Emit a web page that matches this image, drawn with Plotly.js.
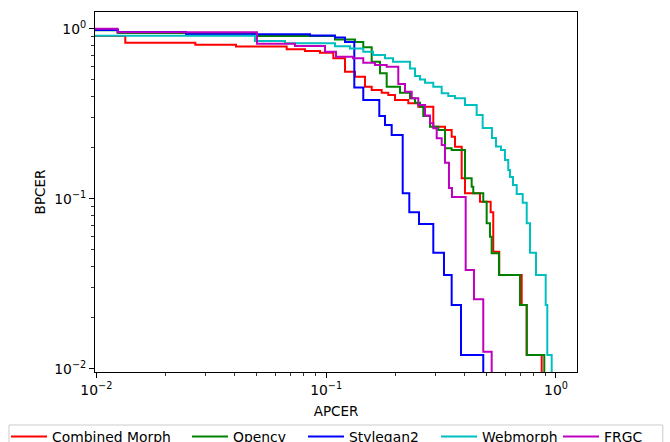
<!DOCTYPE html>
<html>
<head>
<meta charset="utf-8">
<script src="https://cdn.plot.ly/plotly-3.0.1.min.js"></script>
<style>html,body{margin:0;padding:0;background:#fff;}#chart{width:670px;height:442px;}</style>
</head>
<body>
<div id="chart"></div>
<script>
// Series names
const seriesNames = ["Combined Morph", "Opencv", "Stylegan2", "Webmorph", "FRGC"];

// Combined Morph (APCER, BPCER) step vertices
const combinedX = [0.0095, 0.01337, 0.02696, 0.04053, 0.06734, 0.0809, 0.09402, 0.10745, 0.1208, 0.13351, 0.14754, 0.15781, 0.17444, 0.18636, 0.1993, 0.22772, 0.25172, 0.29253, 0.32885, 0.35166, 0.36355, 0.38878, 0.40179, 0.46691, 0.51973, 0.53343, 0.56646, 0.70924, 0.74581, 0.86665];
const combinedY = [0.906, 0.8273, 0.8052, 0.7858, 0.7566, 0.7394, 0.7226, 0.6698, 0.5584, 0.5219, 0.4559, 0.4359, 0.4202, 0.4074, 0.3807, 0.3641, 0.3477, 0.2652, 0.2536, 0.2315, 0.2022, 0.1318, 0.1075, 0.09602, 0.08318, 0.04879, 0.03557, 0.0237, 0.01204, 0.005];

// Opencv
const opencvX = [0.0095, 0.01239, 0.05001, 0.10929, 0.13351, 0.14505, 0.15781, 0.1715, 0.1834, 0.20955, 0.23163, 0.24353, 0.25604, 0.26464, 0.28301, 0.30756, 0.32885, 0.35166, 0.40179, 0.42967, 0.43661, 0.4826, 0.49933, 0.51611, 0.52496, 0.56476, 0.69728, 0.74581, 0.88934];
const opencvY = [0.9786, 0.9434, 0.9059, 0.8639, 0.8351, 0.7773, 0.6396, 0.5465, 0.4559, 0.4202, 0.3896, 0.367, 0.3477, 0.3065, 0.2652, 0.2536, 0.1979, 0.1934, 0.1318, 0.1176, 0.1075, 0.09602, 0.07165, 0.05976, 0.04774, 0.03557, 0.0237, 0.01204, 0.005];

// Stylegan2
const styleganX = [0.0095, 0.01239, 0.02457, 0.08505, 0.10929, 0.1208, 0.13258, 0.14505, 0.1703, 0.1803, 0.19282, 0.2153, 0.23001, 0.25349, 0.29253, 0.32557, 0.35166, 0.38607, 0.4826];
const styleganY = [0.9825, 0.9563, 0.927, 0.912, 0.8877, 0.8351, 0.451, 0.3807, 0.3065, 0.2714, 0.2369, 0.1075, 0.08318, 0.07097, 0.04813, 0.03557, 0.0237, 0.01204, 0.005];

// Webmorph
const webmorphX = [0.0095, 0.04902, 0.0662, 0.10929, 0.12699, 0.14505, 0.15988, 0.1803, 0.19534, 0.23163, 0.24353, 0.25604, 0.26919, 0.29253, 0.31816, 0.33988, 0.36355, 0.40179, 0.45171, 0.47971, 0.52655, 0.54806, 0.57622, 0.5998, 0.61996, 0.63061, 0.65004, 0.6746, 0.71638, 0.74581, 0.77086, 0.81859, 0.90188, 0.91656, 0.95784];
const webmorphY = [0.9084, 0.8465, 0.8207, 0.789, 0.7648, 0.7324, 0.7004, 0.6698, 0.6396, 0.5831, 0.5268, 0.5027, 0.4813, 0.4559, 0.4169, 0.4019, 0.3896, 0.3558, 0.3107, 0.2606, 0.2275, 0.2028, 0.1934, 0.1689, 0.1475, 0.1341, 0.1204, 0.1065, 0.09473, 0.07165, 0.04813, 0.03557, 0.0237, 0.01204, 0.005];

// FRGC
const frgcX = [0.0095, 0.01239, 0.05001, 0.07318, 0.09886, 0.11039, 0.13086, 0.14505, 0.16312, 0.1834, 0.206, 0.22031, 0.23561, 0.25172, 0.26919, 0.28301, 0.29253, 0.30267, 0.31816, 0.32885, 0.34228, 0.35272, 0.40461, 0.43968, 0.4826, 0.52496];
const frgcY = [1.0, 0.9524, 0.8162, 0.7911, 0.7324, 0.6845, 0.6698, 0.631, 0.6114, 0.5975, 0.4729, 0.4259, 0.3896, 0.3558, 0.3086, 0.2777, 0.2595, 0.2266, 0.207, 0.1628, 0.1156, 0.1023, 0.03807, 0.02561, 0.01259, 0.005];

// Axis ticks
const majorTickVals = [0.01, 0.1, 1];
const majorTickText = ["10<sup>\u22122</sup>", "10<sup>\u22121</sup>", "10<sup>0</sup>"];
const minorTickVals = [0.02,0.03,0.04,0.05,0.06,0.07,0.08,0.09,0.2,0.3,0.4,0.5,0.6,0.7,0.8,0.9];

const colors = ["#ff0000", "#008000", "#0000ff", "#00bfbf", "#bf00bf"];
const xs = [combinedX, opencvX, styleganX, webmorphX, frgcX];
const ys = [combinedY, opencvY, styleganY, webmorphY, frgcY];

// one legend per entry, so the row can span the full figure width like the reference
const legendIds = ['legend', 'legend2', 'legend3', 'legend4', 'legend5'];
const legendXs = [-0.1846, 0.1909, 0.4315, 0.7075, 0.9606];

const traces = seriesNames.map((n, i) => ({
  x: xs[i], y: ys[i], name: n, type: 'scatter', mode: 'lines',
  legend: legendIds[i],
  line: {color: colors[i], width: 2, shape: 'hv'}
}));

const axisBase = {
  type: 'log', showline: true, mirror: true, linecolor: 'black', linewidth: 1,
  ticks: 'outside', ticklen: 5, tickwidth: 1, tickcolor: 'black',
  tickmode: 'array', tickvals: majorTickVals, ticktext: majorTickText,
  showgrid: false, zeroline: false, automargin: false,
  tickfont: {size: 13.9, color: 'black'},
  minor: {ticks: 'outside', ticklen: 3, tickwidth: 0.8, tickcolor: 'black', tickmode: 'array', tickvals: minorTickVals, showgrid: false}
};

const layout = {
  width: 670, height: 442,
  margin: {l: 95, r: 93, t: 12, b: 70, autoexpand: false},
  paper_bgcolor: 'white', plot_bgcolor: 'white',
  font: {family: 'DejaVu Sans, sans-serif', size: 13.9, color: 'black'},
  showlegend: true,
  xaxis: Object.assign({}, axisBase, {range: [-2.0057, 0.0914], title: {text: 'APCER', standoff: 9, font: {size: 13.5}}}),
  yaxis: Object.assign({}, axisBase, {range: [-2.0194, 0.0982], title: {text: 'BPCER', standoff: 5, font: {size: 13.5}}}),
  shapes: [{type: 'rect', xref: 'paper', yref: 'paper', x0: -0.1785, x1: 1.178, y0: -0.1472, y1: -0.26,
            line: {color: '#cccccc', width: 1}, fillcolor: 'rgba(255,255,255,0)'}]
};
legendIds.forEach((id, i) => {
  layout[id] = {orientation: 'h', x: legendXs[i], xanchor: 'left', y: -0.136, yanchor: 'top', itemwidth: 36,
                borderwidth: 0, bgcolor: 'rgba(0,0,0,0)', font: {size: 13.9, color: 'black'}};
});

Plotly.newPlot('chart', traces, layout, {displayModeBar: false, staticPlot: true});
</script>
</body>
</html>
